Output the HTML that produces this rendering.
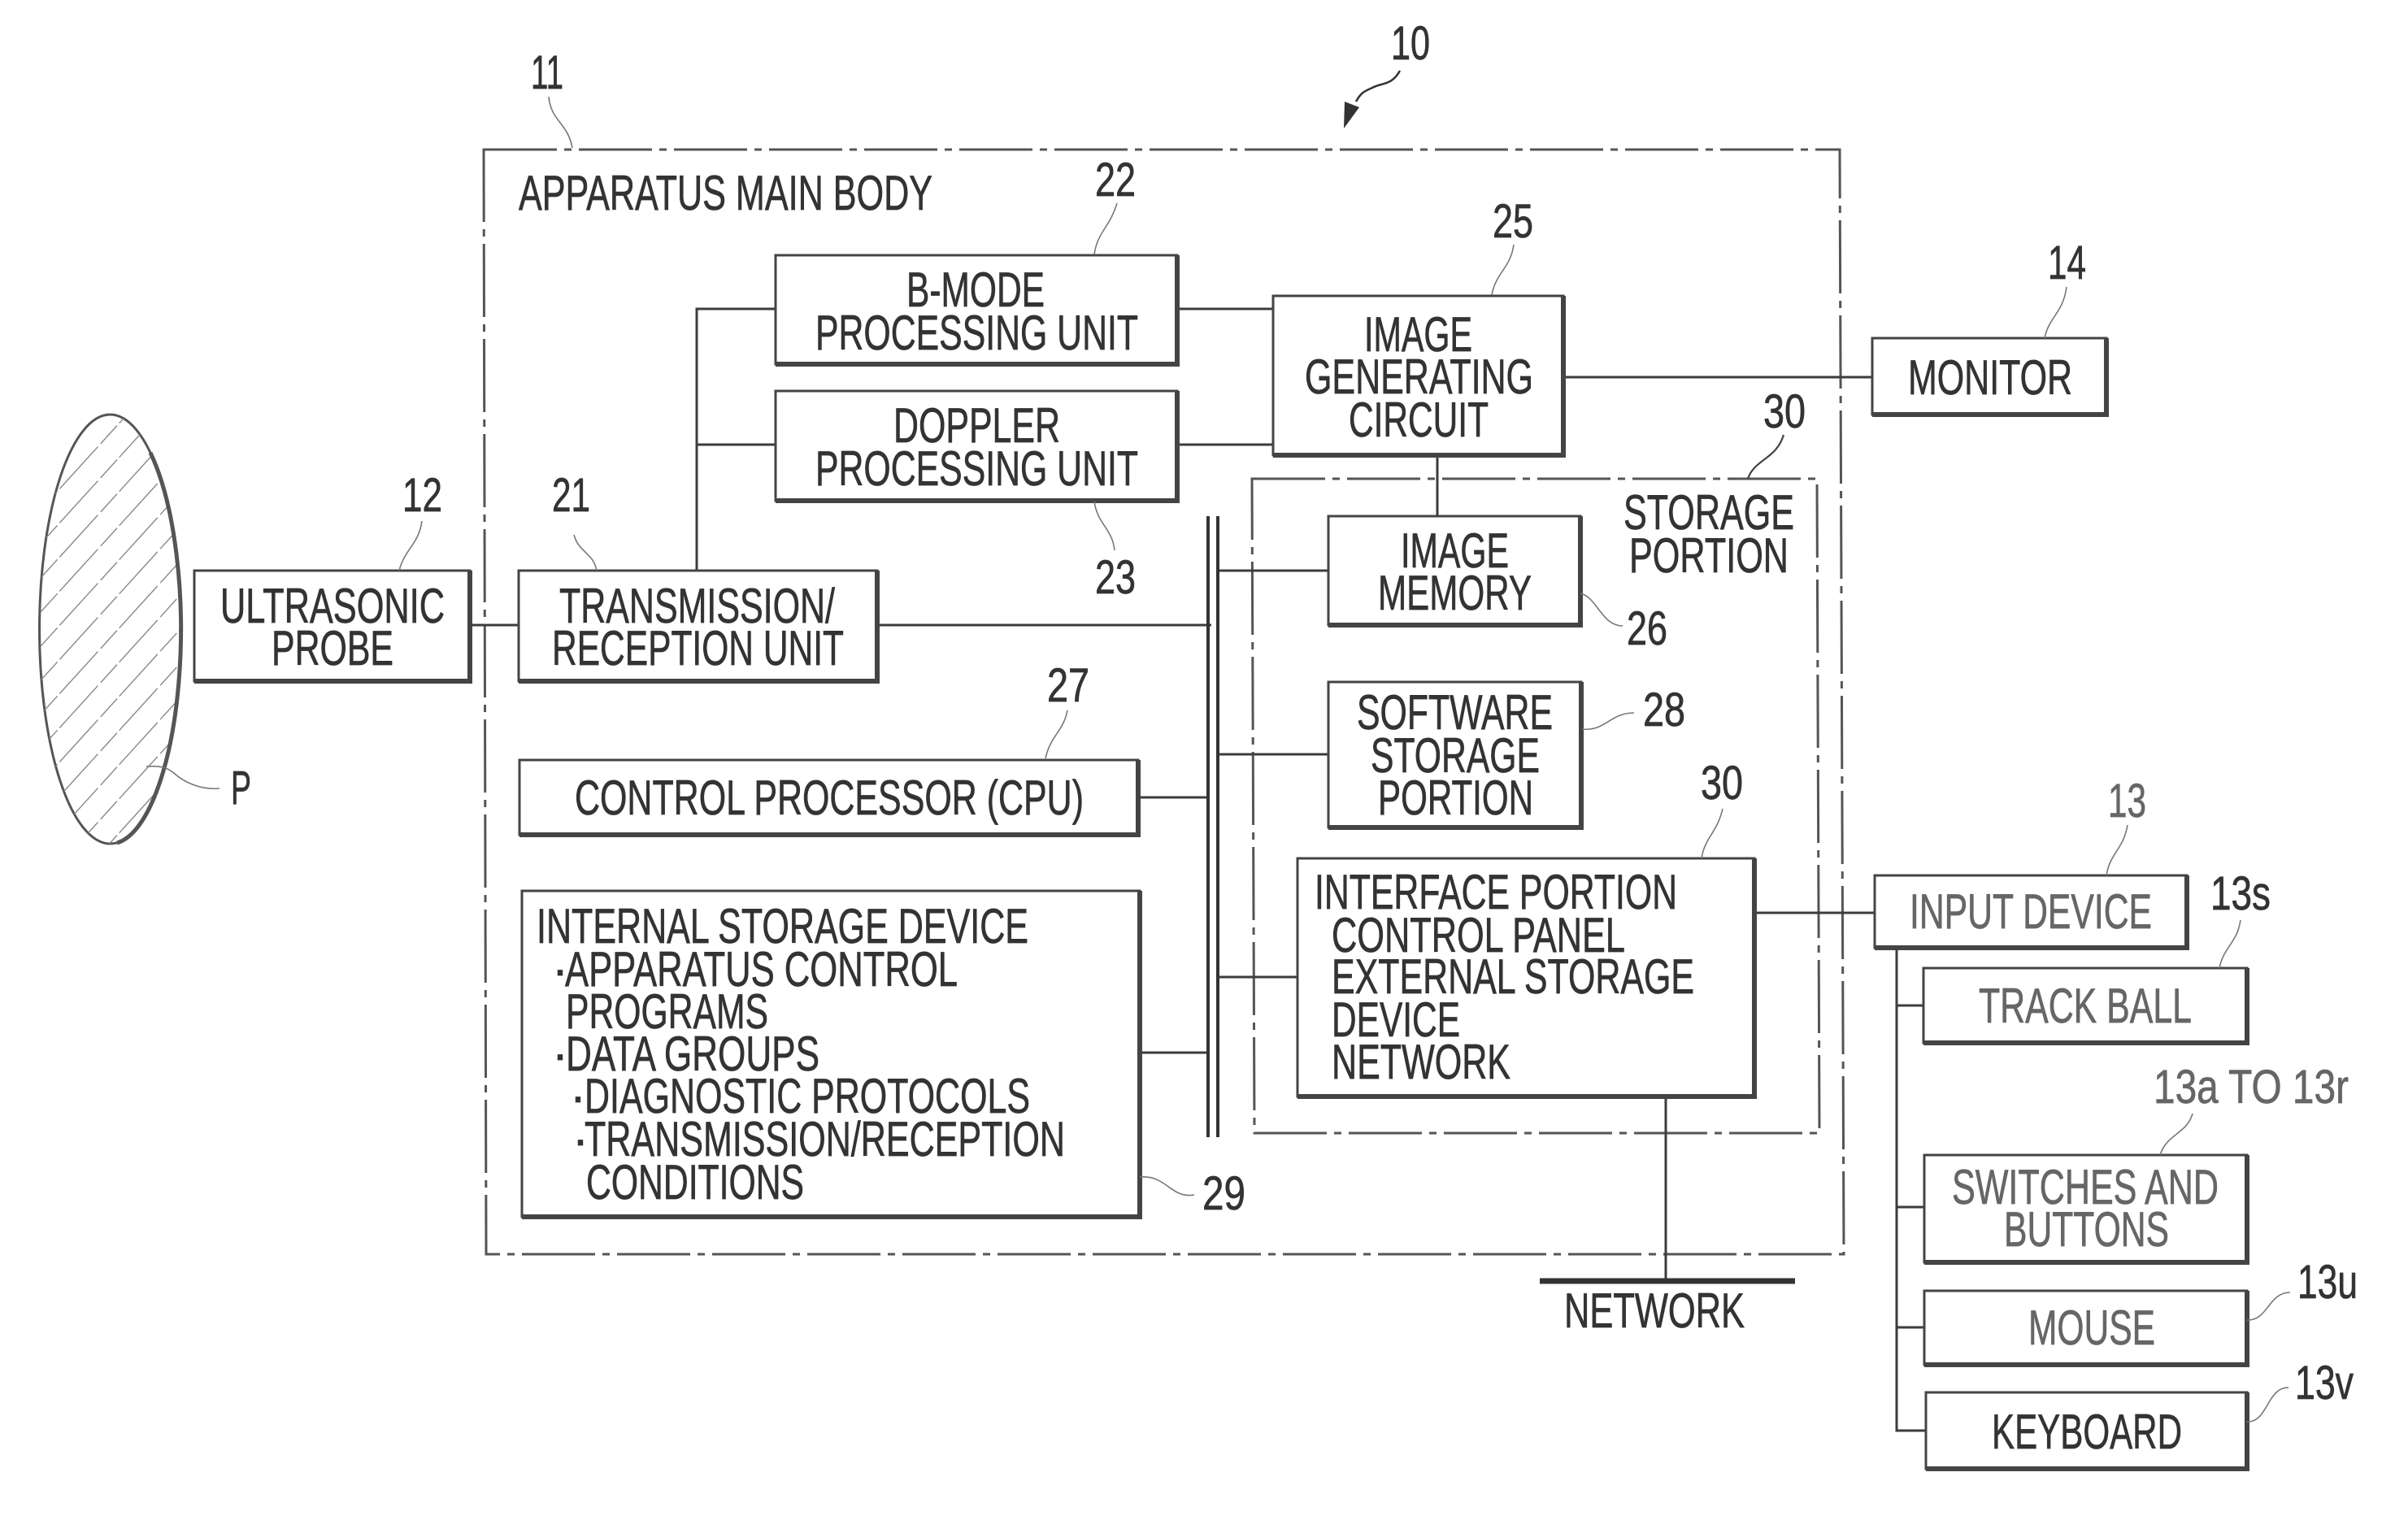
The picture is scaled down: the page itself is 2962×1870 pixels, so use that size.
<!DOCTYPE html>
<html><head><meta charset="utf-8"><style>
html,body{margin:0;padding:0;background:#fff}
svg{display:block}
text{font-family:"Liberation Sans",sans-serif;font-size:60px;fill:#333;stroke:#333;stroke-width:.7}
.n{font-size:58px}
.g{fill:#666;stroke:#666}
.box{fill:none;stroke:#444;stroke-width:3}
.sh{fill:none;stroke:#444;stroke-width:6}
.l{fill:none;stroke:#3c3c3c;stroke-width:3}
.d{fill:none;stroke:#555;stroke-width:3;stroke-dasharray:90 9 9 9}
.w{fill:none;stroke:#777;stroke-width:1.6}
.h{stroke:#888;stroke-width:1.4;stroke-dasharray:70 5 30 4}
</style></head><body>
<svg xmlns="http://www.w3.org/2000/svg" width="2962" height="1870" viewBox="0 0 2962 1870">
<rect width="2962" height="1870" fill="#fff"/>
<defs><clipPath id="c"><ellipse cx="135.5" cy="774" rx="87" ry="264"/></clipPath></defs>
<ellipse cx="135.5" cy="774" rx="87" ry="264" fill="#fff" stroke="#555" stroke-width="3"/>
<g clip-path="url(#c)">
<line class="h" x1="0" y1="640" x2="260" y2="354"/><line class="h" x1="0" y1="682" x2="260" y2="396"/>
<line class="h" x1="0" y1="724" x2="260" y2="438"/><line class="h" x1="0" y1="766" x2="260" y2="480"/>
<line class="h" x1="0" y1="808" x2="260" y2="522"/><line class="h" x1="0" y1="850" x2="260" y2="564"/>
<line class="h" x1="0" y1="892" x2="260" y2="606"/><line class="h" x1="0" y1="934" x2="260" y2="648"/>
<line class="h" x1="0" y1="976" x2="260" y2="690"/><line class="h" x1="0" y1="1018" x2="260" y2="732"/>
<line class="h" x1="0" y1="1060" x2="260" y2="774"/><line class="h" x1="0" y1="1102" x2="260" y2="816"/>
<line class="h" x1="0" y1="1144" x2="260" y2="858"/><line class="h" x1="0" y1="1186" x2="260" y2="900"/>
<line class="h" x1="0" y1="1228" x2="260" y2="942"/><line class="h" x1="0" y1="1270" x2="260" y2="984"/>
</g>
<path d="M185 557A87 264 0 0 1 144 1037" fill="none" stroke="#555" stroke-width="5"/>

<path class="d" d="M595 184H2263L2268 1543H598Z"/>
<path class="d" d="M1540 589H2235L2238 1394H1543Z"/>

<path class="l" d="M578 769H638M1079 769H1490M857 702V380H954M857 547H954M1448 380H1566M1448 547H1566M1923 464H2303M1768 560V635M1498 702H1634M1498 928H1634M1498 1202H1596M1400 981H1486M1402 1295H1486M2158 1123H2306M2333 1166V1760H2369M2333 1237H2366M2333 1485H2367M2333 1633H2367M2049 1349V1576"/>
<path d="M1486 635V1399M1498 635V1399" fill="none" stroke="#333" stroke-width="4"/>
<path d="M1894 1576H2208" fill="none" stroke="#333" stroke-width="7"/>

<g class="box">
<rect class="box" x="239" y="702" width="339" height="136"/>
<rect class="box" x="638" y="702" width="441" height="136"/>
<rect class="box" x="954" y="314" width="494" height="134"/>
<rect class="box" x="954" y="481" width="494" height="135"/>
<rect class="box" x="1566" y="364" width="357" height="196"/>
<rect class="box" x="2303" y="416" width="288" height="94"/>
<rect class="box" x="1634" y="635" width="310" height="134"/>
<rect class="box" x="1634" y="839" width="311" height="179"/>
<rect class="box" x="1596" y="1056" width="562" height="293"/>
<rect class="box" x="639" y="935" width="761" height="92"/>
<rect class="box" x="642" y="1096" width="760" height="401"/>
<rect class="box" x="2306" y="1077" width="384" height="89"/>
<rect class="box" x="2366" y="1191" width="398" height="92"/>
<rect class="box" x="2367" y="1421" width="397" height="132"/>
<rect class="box" x="2367" y="1588" width="397" height="91"/>
<rect class="box" x="2369" y="1713" width="395" height="94"/>
</g>
<path class="sh" d="M239 838H578V702M638 838H1079V702M954 448H1448V314M954 616H1448V481M1566 560H1923V364M2303 510H2591V416M1634 769H1944V635M1634 1018H1945V839M1596 1349H2158V1056M639 1027H1400V935M642 1497H1402V1096M2306 1166H2690V1077M2366 1283H2764V1191M2367 1553H2764V1421M2367 1679H2764V1588M2369 1807H2764V1713"/>

<g class="w">
<path d="M675 119C678 150 698 150 704 182"/>
<path d="M1374 250C1365 280 1350 285 1346 313"/>
<path d="M1346 617C1350 645 1368 650 1371 677"/>
<path d="M519 641C515 670 498 675 491 702"/>
<path d="M706 658C712 680 730 680 734 702"/>
<path d="M1313 874C1308 900 1292 905 1286 933"/>
<path d="M1862 301C1858 330 1840 335 1835 363"/>
<path d="M2542 353C2538 385 2520 390 2515 416"/>
<path d="M2194 535C2185 565 2158 565 2150 589" style="stroke:#444;stroke-width:2.2"/>
<path d="M1944 730C1965 735 1970 770 1996 770"/>
<path d="M1946 897C1975 900 1980 877 2010 877"/>
<path d="M180 943C195 942 205 943 215 952S245 972 270 970"/>
<path d="M1402 1448C1435 1445 1440 1475 1469 1470"/>
<path d="M2119 995C2112 1025 2097 1030 2093 1056"/>
<path d="M2617 1015C2612 1045 2595 1050 2591 1077"/>
<path d="M2756 1132C2752 1160 2735 1165 2730 1191"/>
<path d="M2697 1370C2690 1395 2665 1395 2657 1421"/>
<path d="M2817 1590C2790 1590 2790 1625 2764 1624"/>
<path d="M2815 1707C2788 1707 2790 1750 2764 1749"/>
</g>
<path d="M1722 87C1712 105 1700 102 1690 107S1675 112 1668 125" fill="none" stroke="#333" stroke-width="2.5"/>
<path d="M1653 158L1654 125L1672 132Z" fill="#333"/>

<g transform="translate(-1,0)">
<text x="639" y="258" textLength="509" lengthAdjust="spacingAndGlyphs">APPARATUS MAIN BODY</text>
<text x="1116" y="377" textLength="170" lengthAdjust="spacingAndGlyphs">B-MODE</text>
<text x="1004" y="430" textLength="397" lengthAdjust="spacingAndGlyphs">PROCESSING UNIT</text>
<text x="1100" y="544" textLength="205" lengthAdjust="spacingAndGlyphs">DOPPLER</text>
<text x="1004" y="597" textLength="397" lengthAdjust="spacingAndGlyphs">PROCESSING UNIT</text>
<text x="272" y="766" textLength="276" lengthAdjust="spacingAndGlyphs">ULTRASONIC</text>
<text x="335" y="818" textLength="150" lengthAdjust="spacingAndGlyphs">PROBE</text>
<text x="689" y="766" textLength="339" lengthAdjust="spacingAndGlyphs">TRANSMISSION/</text>
<text x="680" y="818" textLength="359" lengthAdjust="spacingAndGlyphs">RECEPTION UNIT</text>
<text x="1679" y="432" textLength="133" lengthAdjust="spacingAndGlyphs">IMAGE</text>
<text x="1606" y="484" textLength="281" lengthAdjust="spacingAndGlyphs">GENERATING</text>
<text x="1660" y="537" textLength="172" lengthAdjust="spacingAndGlyphs">CIRCUIT</text>
<text x="2348" y="485" textLength="202" lengthAdjust="spacingAndGlyphs">MONITOR</text>
<text x="1998" y="651" textLength="210" lengthAdjust="spacingAndGlyphs">STORAGE</text>
<text x="2005" y="704" textLength="196" lengthAdjust="spacingAndGlyphs">PORTION</text>
<text x="1724" y="698" textLength="133" lengthAdjust="spacingAndGlyphs">IMAGE</text>
<text x="1696" y="750" textLength="189" lengthAdjust="spacingAndGlyphs">MEMORY</text>
<text x="1670" y="897" textLength="241" lengthAdjust="spacingAndGlyphs">SOFTWARE</text>
<text x="1687" y="950" textLength="208" lengthAdjust="spacingAndGlyphs">STORAGE</text>
<text x="1696" y="1002" textLength="191" lengthAdjust="spacingAndGlyphs">PORTION</text>
<text x="708" y="1002" textLength="626" lengthAdjust="spacingAndGlyphs">CONTROL PROCESSOR (CPU)</text>
<text x="661" y="1160" textLength="605" lengthAdjust="spacingAndGlyphs">INTERNAL STORAGE DEVICE</text>
<text x="680" y="1213">·</text>
<text x="696" y="1213" textLength="483" lengthAdjust="spacingAndGlyphs">APPARATUS CONTROL</text>
<text x="697" y="1265" textLength="249" lengthAdjust="spacingAndGlyphs">PROGRAMS</text>
<text x="680" y="1317">·</text>
<text x="697" y="1317" textLength="312" lengthAdjust="spacingAndGlyphs">DATA GROUPS</text>
<text x="702" y="1369">·</text>
<text x="720" y="1369" textLength="548" lengthAdjust="spacingAndGlyphs">DIAGNOSTIC PROTOCOLS</text>
<text x="705" y="1422">·</text>
<text x="720" y="1422" textLength="591" lengthAdjust="spacingAndGlyphs">TRANSMISSION/RECEPTION</text>
<text x="722" y="1475" textLength="268" lengthAdjust="spacingAndGlyphs">CONDITIONS</text>
<text x="1618" y="1118" textLength="446" lengthAdjust="spacingAndGlyphs">INTERFACE PORTION</text>
<text x="1639" y="1171" textLength="361" lengthAdjust="spacingAndGlyphs">CONTROL PANEL</text>
<text x="1639" y="1222" textLength="446" lengthAdjust="spacingAndGlyphs">EXTERNAL STORAGE</text>
<text x="1639" y="1275" textLength="158" lengthAdjust="spacingAndGlyphs">DEVICE</text>
<text x="1639" y="1327" textLength="220" lengthAdjust="spacingAndGlyphs">NETWORK</text>
<text class="g" x="2350" y="1142" textLength="298" lengthAdjust="spacingAndGlyphs">INPUT DEVICE</text>
<text class="g" x="2435" y="1258" textLength="262" lengthAdjust="spacingAndGlyphs">TRACK BALL</text>
<text class="g" x="2402" y="1481" textLength="328" lengthAdjust="spacingAndGlyphs">SWITCHES AND</text>
<text class="g" x="2466" y="1533" textLength="203" lengthAdjust="spacingAndGlyphs">BUTTONS</text>
<text class="g" x="2496" y="1654" textLength="156" lengthAdjust="spacingAndGlyphs">MOUSE</text>
<text x="2451" y="1782" textLength="234" lengthAdjust="spacingAndGlyphs">KEYBOARD</text>
<text x="1925" y="1633" textLength="222" lengthAdjust="spacingAndGlyphs">NETWORK</text>

<text class="n" x="654" y="109" textLength="40" lengthAdjust="spacingAndGlyphs">11</text>
<text class="n" x="1712" y="73" textLength="48" lengthAdjust="spacingAndGlyphs">10</text>
<text class="n" x="1348" y="241" textLength="50" lengthAdjust="spacingAndGlyphs">22</text>
<text class="n" x="1837" y="292" textLength="50" lengthAdjust="spacingAndGlyphs">25</text>
<text class="n" x="2520" y="343" textLength="47" lengthAdjust="spacingAndGlyphs">14</text>
<text class="n" x="2170" y="526" textLength="52" lengthAdjust="spacingAndGlyphs">30</text>
<text class="n" x="496" y="629" textLength="49" lengthAdjust="spacingAndGlyphs">12</text>
<text class="n" x="680" y="629" textLength="47" lengthAdjust="spacingAndGlyphs">21</text>
<text class="n" x="1348" y="730" textLength="50" lengthAdjust="spacingAndGlyphs">23</text>
<text class="n" x="2002" y="793" textLength="50" lengthAdjust="spacingAndGlyphs">26</text>
<text class="n" x="1289" y="863" textLength="52" lengthAdjust="spacingAndGlyphs">27</text>
<text class="n" x="2022" y="893" textLength="52" lengthAdjust="spacingAndGlyphs">28</text>
<text class="n" x="285" y="989" textLength="25" lengthAdjust="spacingAndGlyphs">P</text>
<text class="n" x="2093" y="983" textLength="52" lengthAdjust="spacingAndGlyphs">30</text>
<text class="n g" x="2594" y="1005" textLength="47" lengthAdjust="spacingAndGlyphs">13</text>
<text class="n" x="2720" y="1119" textLength="74" lengthAdjust="spacingAndGlyphs">13s</text>
<text class="n g" x="2650" y="1357" textLength="240" lengthAdjust="spacingAndGlyphs">13a TO 13r</text>
<text class="n" x="1480" y="1488" textLength="53" lengthAdjust="spacingAndGlyphs">29</text>
<text class="n" x="2827" y="1597" textLength="74" lengthAdjust="spacingAndGlyphs">13u</text>
<text class="n" x="2824" y="1721" textLength="72" lengthAdjust="spacingAndGlyphs">13v</text>
</g>
</svg>
</body></html>
